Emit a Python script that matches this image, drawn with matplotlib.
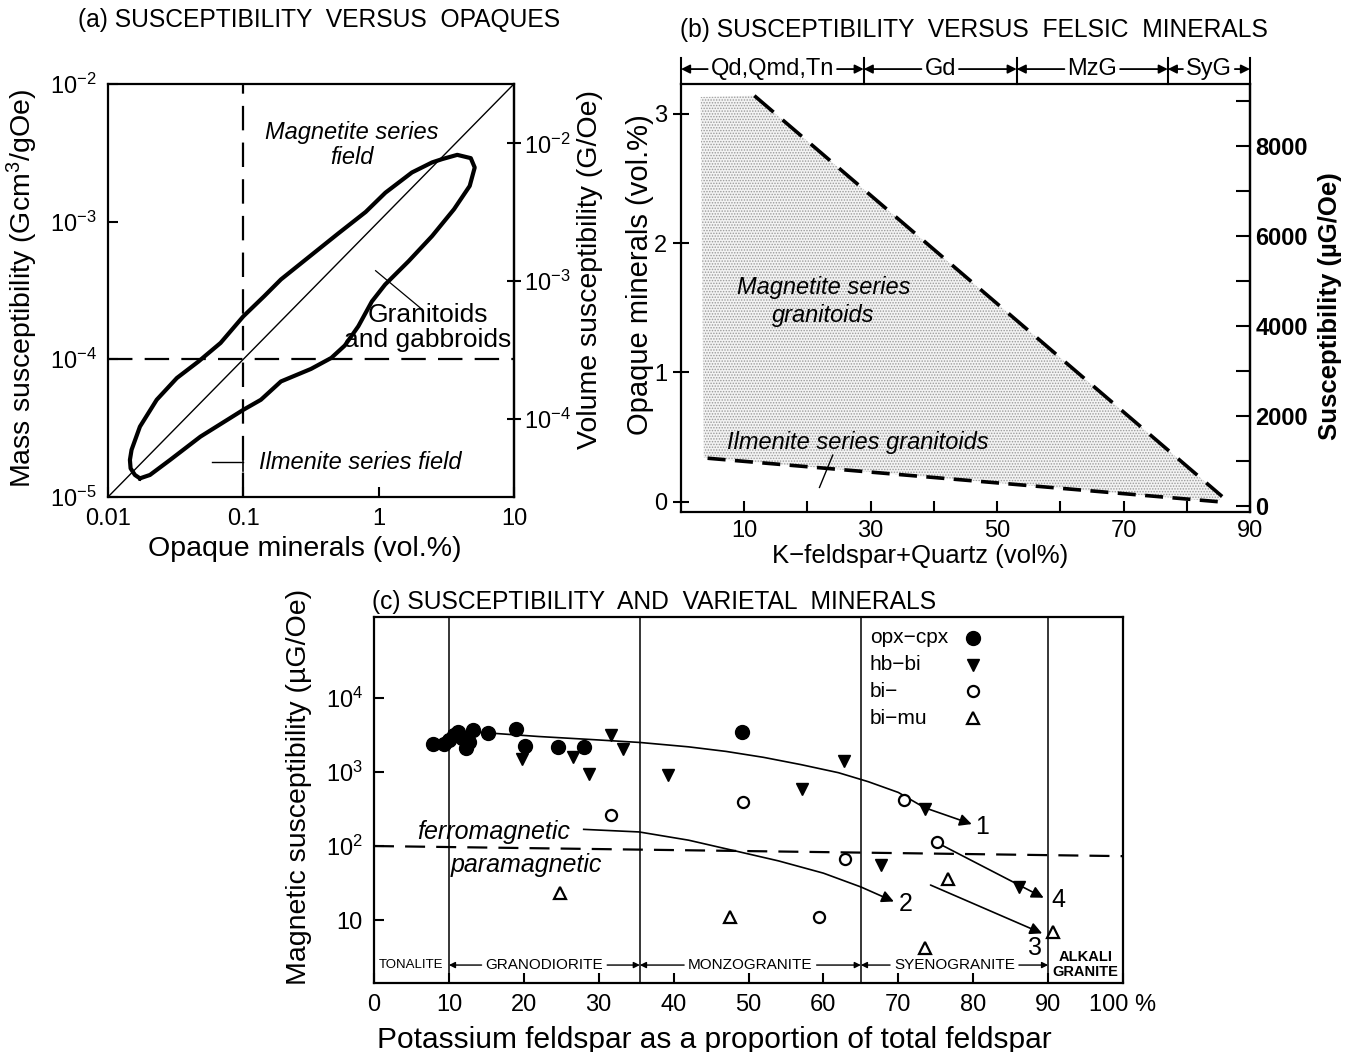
import matplotlib
matplotlib.use("Agg")
import matplotlib.pyplot as plt
import matplotlib.transforms as mtransforms
from matplotlib.ticker import FixedLocator, FixedFormatter, NullLocator

plt.rcParams['font.family'] = ['Liberation Sans', 'DejaVu Sans']
plt.rcParams['mathtext.fontset'] = 'custom'
plt.rcParams['mathtext.rm'] = 'Liberation Sans'
plt.rcParams['mathtext.it'] = 'Liberation Sans:italic'
plt.rcParams['mathtext.bf'] = 'Liberation Sans:bold'
plt.rcParams['axes.linewidth'] = 1.6
plt.rcParams['hatch.linewidth'] = 0.7

# ---------------- (a) susceptibility versus opaques ----------------
opaque_lim = [0.01, 10]
mass_lim = [1e-5, 1e-2]
diag_opaque = [0.01, 10]
diag_mass = [1e-5, 1e-2]
opaque_cut = 0.1
mass_cut = 1e-4
density = 2.7  # mass -> volume susceptibility
mass_ticks = [1e-5, 1e-4, 1e-3, 1e-2]
mass_labels = ['$10^{-5}$', '$10^{-4}$', '$10^{-3}$', '$10^{-2}$']
vol_ticks = [1e-4, 1e-3, 1e-2]
vol_labels = ['$10^{-4}$', '$10^{-3}$', '$10^{-2}$']
opaque_ticks = [0.01, 0.1, 1, 10]
opaque_labels = ['0.01', '0.1', '1', '10']

# outline of the granitoid / gabbroid field
loop_opaque = [0.01722, 0.01581, 0.01469, 0.01452, 0.01493, 0.01722, 0.02291,
               0.03228, 0.04677, 0.06792, 0.1, 0.1426, 0.1897, 0.2965, 0.5047,
               0.8017, 1.122, 1.762, 2.483, 2.944, 3.811, 4.797, 5.129, 4.710,
               3.606, 2.483, 1.667, 1.117, 0.8913, 0.7079, 0.5623, 0.4467,
               0.3162, 0.1897, 0.1349, 0.1, 0.04819, 0.02877, 0.02042, 0.01722]
loop_mass = [1.365e-5, 1.445e-5, 1.614e-5, 1.858e-5, 2.198e-5, 3.243e-5, 5.082e-5,
             7.311e-5, 9.66e-5, 1.315e-4, 2.051e-4, 2.871e-4, 3.802e-4, 5.408e-4,
             8.222e-4, 1.175e-3, 1.622e-3, 2.275e-3, 2.692e-3, 2.844e-3, 3.055e-3,
             2.891e-3, 2.472e-3, 1.816e-3, 1.230e-3, 7.852e-4, 5.164e-4, 3.491e-4,
             2.630e-4, 1.738e-4, 1.259e-4, 1.023e-4, 8.511e-5, 6.902e-5, 5.082e-5,
             4.295e-5, 2.742e-5, 1.858e-5, 1.445e-5, 1.365e-5]

# ---------------- (b) susceptibility versus felsic minerals ----------------
felsic_lim = [0, 90]
opaque_b_lim = [-0.08, 3.23]
rock_edges_b = [0, 28.9, 53.1, 77.0, 90]
rock_names_b = ['Qd,Qmd,Tn', 'Gd', 'MzG', 'SyG']
upper_x = [11.6, 85.6]
upper_op = [3.14, 0.04]
lower_x = [4.2, 84.9]
lower_op = [0.336, 0.0]
field_x = [3.1, 11.6, 85.6, 84.9, 4.2, 3.6]
field_op = [3.13, 3.14, 0.04, 0.0, 0.336, 0.34]
susc_per_opaque = 2870.0
susc_offset = 100.0

# ---------------- (c) susceptibility and varietal minerals ----------------
kfs_lim = [0, 100]
susc_lim = [1.41, 1.245e5]
rock_edges_c = [0, 10, 35.5, 65, 90, 100]
rock_names_c = ['TONALITE', 'GRANODIORITE', 'MONZOGRANITE', 'SYENOGRANITE', 'ALKALI\nGRANITE']
opx_x = [7.9, 9.3, 10.0, 10.7, 11.2, 11.8, 12.3, 12.7, 13.2, 15.2, 18.9, 20.1, 24.6, 28.0, 49.1]
opx_y = [2370, 2370, 2700, 3160, 3510, 2850, 2090, 2570, 3700, 3390, 3780, 2270, 2200, 2200, 3440]
hb_x = [19.8, 26.6, 28.7, 31.7, 33.2, 39.2, 57.1, 62.7, 67.7, 73.6, 86.1]
hb_y = [1480, 1580, 940, 3160, 2030, 910, 583, 1420, 55, 313, 28]
bi_x = [31.6, 49.2, 59.4, 62.9, 70.8, 75.1]
bi_y = [263, 398, 11.1, 67, 417, 112]
bimu_x = [24.9, 47.5, 73.6, 76.6, 90.6]
bimu_y = [23, 11.1, 4.2, 36, 6.9]
legend_labels = ['opx\u2212cpx', 'hb\u2212bi', 'bi\u2212', 'bi\u2212mu']

para_x = [0, 100]
para_y = [100, 73]

trend_x = {
    '1': [10, 15, 22, 29, 35.5, 42, 47, 52, 57, 62, 66, 70, 73.5, 79.8],
    '2': [28, 35.4, 42, 48, 54, 60, 65, 69.4],
    '3': [74.3, 89.2],
    '4': [75.1, 89.4],
}
trend_y = {
    '1': [3550, 3390, 3020, 2750, 2510, 2190, 1900, 1580, 1260, 980, 740, 530, 330, 198],
    '2': [168, 155, 120, 87, 63, 43, 28, 17.8],
    '3': [29.7, 6.6],
    '4': [112, 20],
}
trend_label_x = {'1': 81.2, '2': 71.0, '3': 88.3, '4': 91.4}
trend_label_y = {'1': 182, '2': 16.6, '3': 4.2, '4': 18.6}

susc_c_ticks = [10, 100, 1000, 10000]
susc_c_labels = ['10', '$10^2$', '$10^3$', '$10^4$']
kfs_ticks = [0, 10, 20, 30, 40, 50, 60, 70, 80, 90, 100]
kfs_labels = ['0', '10', '20', '30', '40', '50', '60', '70', '80', '90', '100 %']


fig = plt.figure(figsize=(13.55, 10.52), dpi=100)
fig.patch.set_facecolor('white')

# ======================= panel (a) =======================
ax_a = fig.add_axes([0.0797, 0.5276, 0.2996, 0.3926])
ax_a.set_xscale('log')
ax_a.set_yscale('log')
ax_a.set_xlim(opaque_lim)
ax_a.set_ylim(mass_lim)
ax_a.plot(diag_opaque, diag_mass, color='black', lw=1.0)
ax_a.axvline(opaque_cut, color='black', lw=1.6, dashes=(11, 5.5))
ax_a.axhline(mass_cut, color='black', lw=1.6, dashes=(11, 5.5))
ax_a.plot(loop_opaque, loop_mass, color='black', lw=3.0, solid_joinstyle='round')

ax_a.xaxis.set_major_locator(FixedLocator(opaque_ticks))
ax_a.xaxis.set_major_formatter(FixedFormatter(opaque_labels))
ax_a.yaxis.set_major_locator(FixedLocator(mass_ticks))
ax_a.yaxis.set_major_formatter(FixedFormatter(mass_labels))
ax_a.xaxis.set_minor_locator(NullLocator())
ax_a.yaxis.set_minor_locator(NullLocator())
ax_a.tick_params(direction='in', length=7, width=1.5, labelsize=17, pad=8)

sec_a = ax_a.secondary_yaxis('right', functions=(lambda m: m * density, lambda v: v / density))
sec_a.yaxis.set_major_locator(FixedLocator(vol_ticks))
sec_a.yaxis.set_major_formatter(FixedFormatter(vol_labels))
sec_a.yaxis.set_minor_locator(NullLocator())
sec_a.tick_params(direction='inout', length=10, width=1.5, labelsize=17, pad=2)

ax_a.text(0.63, 3.6e-3, 'Magnetite series\nfield', style='italic', fontsize=17,
          ha='center', va='center', linespacing=1.1)
ax_a.text(2.3, 1.7e-4, 'Granitoids\nand gabbroids', fontsize=19,
          ha='center', va='center', linespacing=1.05)
ax_a.plot([0.95, 2.1], [4.4e-4, 2.3e-4], color='black', lw=0.9)
ax_a.text(0.13, 1.78e-5, 'Ilmenite series field', style='italic', fontsize=17,
          ha='left', va='center')
ax_a.plot([0.059, 0.099], [1.78e-5, 1.78e-5], color='black', lw=1.0)
ax_a.plot([0.1, 0.1], [1.55e-5, 2.05e-5], color='black', lw=1.2)

ax_a.set_xlabel('Opaque minerals (vol.%)', fontsize=20.5, va='center')
ax_a.xaxis.set_label_coords(0.485, -0.125)
ax_a.set_ylabel('Mass susceptibility (Gcm$^3$/gOe)', fontsize=20.5, va='center')
ax_a.yaxis.set_label_coords(-0.212, 0.505)
sec_a.set_ylabel('Volume susceptibility (G/Oe)', fontsize=20.5, va='center')
sec_a.yaxis.set_label_coords(1.187, 0.55, transform=ax_a.transAxes)
fig.text(0.0576, 0.981, '(a) SUSCEPTIBILITY  VERSUS  OPAQUES', fontsize=17.7,
         ha='left', va='center')

# ======================= panel (b) =======================
ax_b = fig.add_axes([0.5026, 0.5133, 0.4199, 0.4068])
ax_b.set_xlim(felsic_lim)
ax_b.set_ylim(opaque_b_lim)
ax_b.fill(field_x, field_op, facecolor='#f3f3f3', edgecolor='#9a9a9a', lw=0,
          hatch='......')
ax_b.plot(upper_x, upper_op, color='black', lw=2.6, dashes=(7, 3.3))
ax_b.plot(lower_x, lower_op, color='black', lw=2.6, dashes=(5, 2.6))

ax_b.set_xticks([10, 30, 50, 70, 90])
ax_b.set_xticks([20, 40, 60, 80], minor=True)
ax_b.set_yticks([0, 1, 2, 3])
ax_b.tick_params(axis='x', which='both', direction='in', length=8, width=1.5,
                 labelsize=17, pad=6)
ax_b.tick_params(axis='y', direction='inout', length=12, width=1.5, labelsize=17, pad=4)

sec_b = ax_b.secondary_yaxis('right', functions=(
    lambda op: op * susc_per_opaque + susc_offset,
    lambda s: (s - susc_offset) / susc_per_opaque))
sec_b.set_yticks([0, 2000, 4000, 6000, 8000])
sec_b.set_yticks([1000, 3000, 5000, 7000, 9000], minor=True)
sec_b.tick_params(which='both', direction='in', length=10, width=1.5, labelsize=17, pad=4)
for lbl in sec_b.get_yticklabels():
    lbl.set_fontweight('bold')

ax_b.text(22.5, 1.55, 'Magnetite series\ngranitoids', style='italic', fontsize=17,
          ha='center', va='center', linespacing=1.3)
ax_b.text(28.0, 0.46, 'Ilmenite series granitoids', style='italic', fontsize=17,
          ha='center', va='center')
ax_b.plot([21.9, 24.0], [0.11, 0.36], color='black', lw=1.0)

ax_b.set_xlabel('K\u2212feldspar+Quartz (vol%)', fontsize=18.5, va='center')
ax_b.xaxis.set_label_coords(0.42, -0.102)
ax_b.set_ylabel('Opaque minerals (vol.%)', fontsize=21, va='center')
ax_b.yaxis.set_label_coords(-0.072, 0.555)
sec_b.set_ylabel('Susceptibility (\u00b5G/Oe)', fontsize=18.5, fontweight='bold', va='center')
sec_b.yaxis.set_label_coords(1.14, 0.48, transform=ax_b.transAxes)
fig.text(0.502, 0.9715, '(b) SUSCEPTIBILITY  VERSUS  FELSIC  MINERALS', fontsize=17.7,
         ha='left', va='center')

# rock-type band above panel (b)
band_b = mtransforms.blended_transform_factory(ax_b.transData, ax_b.transAxes)
for xe in rock_edges_b:
    ax_b.plot([xe, xe], [1.0, 1.062], color='black', lw=1.5, transform=band_b, clip_on=False)
band_b_texts = []
for x0, x1, name in zip(rock_edges_b[:-1], rock_edges_b[1:], rock_names_b):
    t = ax_b.text((x0 + x1) / 2, 1.035, name, fontsize=17, ha='center', va='center',
                  transform=band_b)
    band_b_texts.append((t, x0, x1))

# ======================= panel (c) =======================
ax_c = fig.add_axes([0.2760, 0.0656, 0.5528, 0.3479])
ax_c.set_yscale('log')
ax_c.set_xlim(kfs_lim)
ax_c.set_ylim(susc_lim)
for xe in rock_edges_c[1:-1]:
    ax_c.axvline(xe, color='black', lw=1.1)
ax_c.plot(para_x, para_y, color='black', lw=1.6, dashes=(9, 5))

for key in trend_x:
    xs, ys = trend_x[key], trend_y[key]
    ax_c.plot(xs[:-1], ys[:-1], color='black', lw=1.2)
    ax_c.annotate('', xy=(xs[-1], ys[-1]), xytext=(xs[-2], ys[-2]),
                  arrowprops=dict(arrowstyle='-|>', color='black', lw=1.2,
                                  mutation_scale=18, shrinkA=0, shrinkB=0))
    ax_c.text(trend_label_x[key], trend_label_y[key], key, fontsize=18,
              ha='center', va='center')

mk_opx = dict(marker='o', color='black', ms=10)
mk_hb = dict(marker='v', color='black', ms=9)
mk_bi = dict(marker='o', mfc='white', mec='black', mew=1.6, ms=8)
mk_bimu = dict(marker='^', mfc='white', mec='black', mew=1.6, ms=9)
ax_c.plot(opx_x, opx_y, ls='none', zorder=5, **mk_opx)
ax_c.plot(hb_x, hb_y, ls='none', zorder=5, **mk_hb)
ax_c.plot(bi_x, bi_y, ls='none', zorder=5, **mk_bi)
ax_c.plot(bimu_x, bimu_y, ls='none', zorder=5, **mk_bimu)

ax_c.text(16, 156, 'ferromagnetic', style='italic', fontsize=18, ha='center', va='center')
ax_c.text(20.4, 55, 'paramagnetic', style='italic', fontsize=18, ha='center', va='center')

# key: names on the left, symbols on the right
for i, (name, mk) in enumerate(zip(legend_labels, [mk_opx, mk_hb, mk_bi, mk_bimu])):
    row_y = 0.943 - i * 0.073
    ax_c.text(0.662, row_y, name, fontsize=15, ha='left', va='center',
              transform=ax_c.transAxes)
    ax_c.plot([0.80], [row_y], transform=ax_c.transAxes, ls='none', **mk)

ax_c.xaxis.set_major_locator(FixedLocator(kfs_ticks))
ax_c.xaxis.set_major_formatter(FixedFormatter(kfs_labels))
ax_c.yaxis.set_major_locator(FixedLocator(susc_c_ticks))
ax_c.yaxis.set_major_formatter(FixedFormatter(susc_c_labels))
ax_c.yaxis.set_minor_locator(NullLocator())
ax_c.tick_params(direction='in', length=7, width=1.5, labelsize=17, pad=8)

ax_c.set_xlabel('Potassium feldspar as a proportion of total feldspar', fontsize=21.5, va='center')
ax_c.xaxis.set_label_coords(0.455, -0.155)
ax_c.set_ylabel('Magnetic susceptibility (\u00b5G/Oe)', fontsize=20.5, va='center')
ax_c.yaxis.set_label_coords(-0.1, 0.535)
fig.text(0.2745, 0.4278, '(c) SUSCEPTIBILITY  AND  VARIETAL  MINERALS', fontsize=17.7,
         ha='left', va='center')

# rock names along the bottom of panel (c)
band_c = mtransforms.blended_transform_factory(ax_c.transData, ax_c.transAxes)
band_c_texts = []
for i, (x0, x1, name) in enumerate(zip(rock_edges_c[:-1], rock_edges_c[1:], rock_names_c)):
    if i == 0:
        ax_c.text((x0 + x1) / 2, 0.049, name, fontsize=9.5, ha='center', va='center',
                  transform=band_c)
    elif i == len(rock_names_c) - 1:
        ax_c.text((x0 + x1) / 2, 0.05, name, fontsize=10.5, fontweight='bold',
                  ha='center', va='center', transform=band_c, linespacing=1.05)
    else:
        t = ax_c.text((x0 + x1) / 2, 0.049, name, fontsize=11, ha='center', va='center',
                      transform=band_c)
        band_c_texts.append((t, x0, x1))

# arrows from each span label out to its boundaries
fig.canvas.draw()


def span_arrows(ax, items, y, trans, lw, scale, pad):
    inv = ax.transData.inverted()
    for t, x0, x1 in items:
        bb = t.get_window_extent()
        left = inv.transform((bb.x0 - pad, bb.y0))[0]
        right = inv.transform((bb.x1 + pad, bb.y0))[0]
        for tail, head in ((left, x0), (right, x1)):
            ax.annotate('', xy=(head, y), xytext=(tail, y), xycoords=trans,
                        textcoords=trans, annotation_clip=False,
                        arrowprops=dict(arrowstyle='-|>', color='black', lw=lw,
                                        mutation_scale=scale, shrinkA=0, shrinkB=0))


span_arrows(ax_b, band_b_texts, 1.035, band_b, 1.3, 13, 3)
span_arrows(ax_c, band_c_texts, 0.049, band_c, 1.0, 9, 4)

fig.savefig('out.png', dpi=100, facecolor='white')
